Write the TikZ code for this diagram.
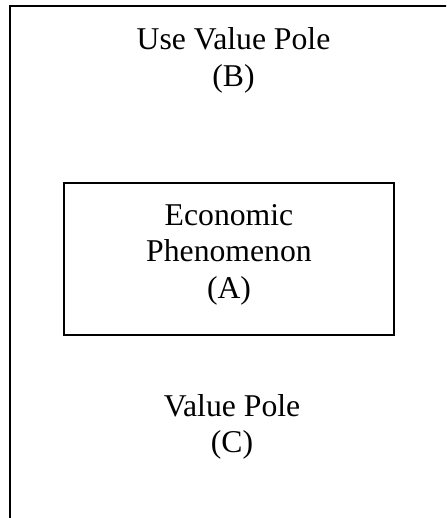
\documentclass[tikz,border=0pt]{standalone}
\usepackage{fontspec}
\setmainfont{Liberation Serif}
\usepackage{tikz}
\usetikzlibrary{
    positioning,
    calc,
}
\tikzset{
    % Basic node styles
    pole/.style={align=center, inner sep=0pt, font=\fontsize{31.7}{36.5}\selectfont},
    phenom box/.style={rectangle, draw, line width=2pt, minimum width=330pt,
                       minimum height=152.3pt},
    frame/.style={draw, line width=2pt},
}

\begin{document}
\begin{tikzpicture}[x=1pt, y=-1pt]
    \clip (0, 0) rectangle (446, 518);

    % Frame
    \draw[frame] (10, 6) rectangle (480, 560);

    % Components
    \node[phenom box] (econ) at (229, 258.8) {};
    \node[pole] (econlabel) at ($(econ.center)+(0, -4.4)$) {Economic\\Phenomenon\\(A)};
    \node[pole] (usevalue) at (233.5, 60.3) {Use Value Pole\\(B)};
    \node[pole] (value) at (232, 427) {Value Pole\\(C)};
\end{tikzpicture}
\end{document}
